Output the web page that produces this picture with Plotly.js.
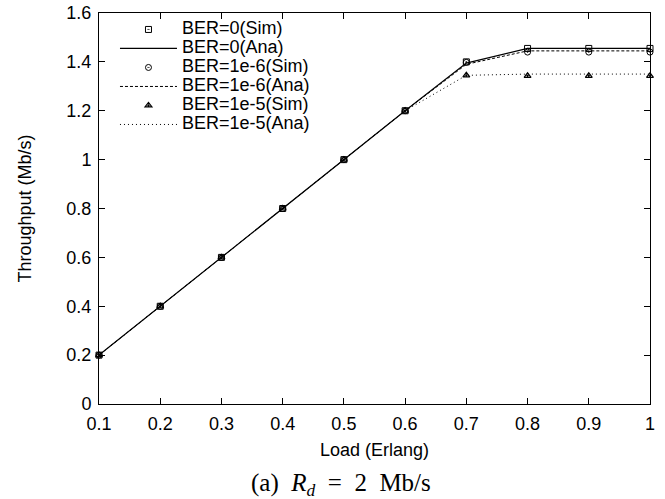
<!DOCTYPE html>
<html>
<head>
<meta charset="utf-8">
<script src="https://cdn.plot.ly/plotly-3.0.1.min.js"></script>
<style>html,body{margin:0;padding:0;background:#fff;}#chart{width:665px;height:499px;}</style>
</head>
<body>
<div id="chart"></div>
<script>
var load = [0.1, 0.2, 0.3, 0.4, 0.5, 0.6, 0.7, 0.8, 0.9, 1.0];
var ber0Sim = [0.2, 0.4, 0.6, 0.8, 1.0, 1.2, 1.400, 1.455, 1.455, 1.455];
var ber0Ana = [0.2, 0.4, 0.6, 0.8, 1.0, 1.2, 1.395, 1.455, 1.455, 1.455];
var ber6Sim = [0.2, 0.4, 0.6, 0.8, 1.0, 1.2, 1.398, 1.440, 1.440, 1.440];
var ber6Ana = [0.2, 0.4, 0.6, 0.8, 1.0, 1.2, 1.390, 1.445, 1.445, 1.445];
var ber5Sim = [0.2, 0.4, 0.6, 0.8, 1.0, 1.2, 1.345, 1.343, 1.343, 1.343];
var ber5Ana = [0.2, 0.4, 0.6, 0.8, 1.0, 1.2, 1.345, 1.350, 1.350, 1.350];
var seriesNames = ["BER=0(Sim)", "BER=0(Ana)", "BER=1e-6(Sim)", "BER=1e-6(Ana)", "BER=1e-5(Sim)", "BER=1e-5(Ana)"];
var xTickVals = [0.1, 0.2, 0.3, 0.4, 0.5, 0.6, 0.7, 0.8, 0.9, 1.0];
var xTickText = ["0.1", "0.2", "0.3", "0.4", "0.5", "0.6", "0.7", "0.8", "0.9", "1"];
var yTickVals = [0, 0.2, 0.4, 0.6, 0.8, 1.0, 1.2, 1.4, 1.6];
var yTickText = ["0", "0.2", "0.4", "0.6", "0.8", "1", "1.2", "1.4", "1.6"];

function lbl(s) { return '<span style="font-size:18px">' + s + '</span>'; }

var FONT = "Liberation Sans, Arial, Helvetica, sans-serif";

var traces = [
  {x: load, y: ber0Sim, name: lbl(seriesNames[0]), mode: "markers", cliponaxis: false,
   marker: {symbol: "square-open-dot", size: 6, color: "#000", line: {width: 1, color: "#000"}}},
  {x: load, y: ber0Ana, name: lbl(seriesNames[1]), mode: "lines", cliponaxis: false,
   line: {color: "#000", width: 1.2}},
  {x: load, y: ber6Sim, name: lbl(seriesNames[2]), mode: "markers", cliponaxis: false,
   marker: {symbol: "circle-open-dot", size: 6, color: "#000", line: {width: 1, color: "#000"}}},
  {x: load, y: ber6Ana, name: lbl(seriesNames[3]), mode: "lines", cliponaxis: false,
   line: {color: "#000", width: 1, dash: "3px,2px"}},
  {x: load, y: ber5Sim, name: lbl(seriesNames[4]), mode: "markers", cliponaxis: false,
   marker: {symbol: "triangle-up-open-dot", size: 6, color: "#000", line: {width: 1.2, color: "#333"}}},
  {x: load, y: ber5Ana, name: lbl(seriesNames[5]), mode: "lines", cliponaxis: false,
   line: {color: "#000", width: 1, dash: "1px,3px"}}
];

var layout = {
  width: 665, height: 499,
  margin: {l: 99, r: 15, t: 13, b: 95},
  paper_bgcolor: "#fff", plot_bgcolor: "#fff",
  font: {family: FONT, size: 18, color: "#000"},
  showlegend: true,
  legend: {x: 0.029, xanchor: "left", y: 0.995, yanchor: "top",
           bgcolor: "rgba(0,0,0,0)", borderwidth: 0, itemwidth: 57,
           font: {family: FONT, size: 12, color: "#000"}, tracegroupgap: 0},
  xaxis: {range: [0.1, 1.0], tickmode: "array", tickvals: xTickVals, ticktext: xTickText,
          ticks: "inside", ticklen: 6, tickcolor: "#000", tickwidth: 1,
          showline: true, linecolor: "#000", linewidth: 1, mirror: "ticks",
          showgrid: false, zeroline: false, ticklabelstandoff: 3,
          tickfont: {family: FONT, size: 18, color: "#000"},
          title: {text: "Load (Erlang)", font: {family: FONT, size: 18, color: "#000"}, standoff: 10}},
  yaxis: {range: [0, 1.6], tickmode: "array", tickvals: yTickVals, ticktext: yTickText,
          ticks: "inside", ticklen: 6, tickcolor: "#000", tickwidth: 1,
          showline: true, linecolor: "#000", linewidth: 1, mirror: "ticks",
          showgrid: false, zeroline: false, ticklabelstandoff: 3,
          tickfont: {family: FONT, size: 18, color: "#000"},
          title: {text: "Throughput (Mb/s)", font: {family: FONT, size: 18, color: "#000"}, standoff: 30}},
  annotations: [
    {xref: "paper", yref: "paper", x: 0.439, y: -0.206, xanchor: "center", yanchor: "middle",
     showarrow: false,
     text: "(a)&nbsp;&nbsp;<i>R</i><sub><i>d</i></sub>&nbsp;&nbsp;=&nbsp;&nbsp;2&nbsp;&nbsp;Mb/s",
     font: {family: "Liberation Serif, Times New Roman, serif", size: 25, color: "#000"}}
  ]
};

Plotly.newPlot("chart", traces, layout, {staticPlot: true, displayModeBar: false});
</script>
</body>
</html>
